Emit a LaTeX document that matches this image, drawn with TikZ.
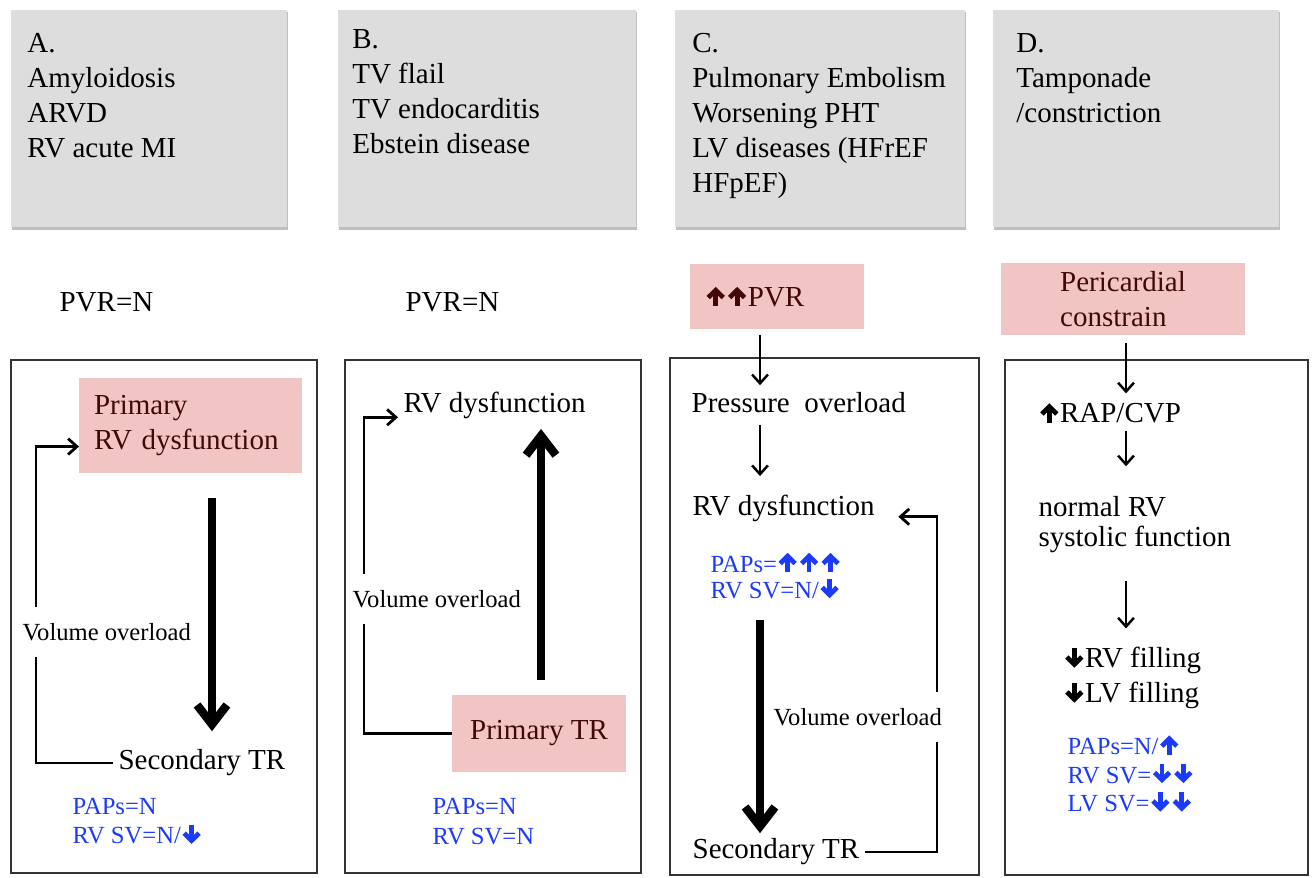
\documentclass[tikz,border=0pt]{standalone}
\usepackage{fontspec}
\setmainfont{Liberation Serif}
\usetikzlibrary{arrows.meta}
\definecolor{boxgray}{RGB}{221,221,221}
\definecolor{shadegray}{RGB}{190,190,190}
\definecolor{pinkfill}{RGB}{242,197,197}
\definecolor{trigtext}{RGB}{66,8,8}
\definecolor{hemoblue}{RGB}{28,58,250}
% heavy inline arrows
\newcommand{\hvup}{\kern0.5pt\tikz[baseline=0pt,x=1pt,y=1pt]\draw[line width=2.7pt,-{Straight Barb[length=4.2pt,width=8.5pt]}] (0,0) -- (0,11);\kern0.5pt}
\newcommand{\hvdn}{\kern0.5pt\tikz[baseline=0pt,x=1pt,y=1pt]\draw[line width=2.7pt,-{Straight Barb[length=4.2pt,width=8.5pt]}] (0,11) -- (0,0);\kern0.5pt}
\tikzset{
  causetxt/.style={anchor=north west, align=left, inner sep=0pt,
                   font=\fontsize{16.5}{19.9}\selectfont},
  trigger/.style={fill=pinkfill, text=trigtext, inner xsep=0.3cm, inner ysep=0pt,
                  outer sep=0pt, align=left, font=\fontsize{16.5}{19.9}\selectfont},
  ftxt/.style={anchor=west, align=left, inner sep=3pt,
               font=\fontsize{16.5}{19.9}\selectfont},
  otxt/.style={anchor=west, inner xsep=3pt, inner ysep=9pt,
               font=\fontsize{14}{17}\selectfont},
  hemo/.style={anchor=west, align=left, inner sep=3pt, text=hemoblue,
               font=\fontsize{14}{17}\selectfont},
  panel/.style={draw=black!80, line width=0.8pt},
  flow/.style={-{Straight Barb[length=5pt,width=9pt]}, line width=1.4pt},
  bigflow/.style={-{Straight Barb[length=11pt,width=17pt]}, line width=4.8pt},
  loopline/.style={line width=1.6pt},
  looptip/.style={-{Straight Barb[length=5pt,width=9pt]}},
}

\begin{document}
\begin{tikzpicture}[x=0.02cm, y=-0.02cm]
\useasboundingbox (0,0) rectangle (1314,878);

% cause boxes
\foreach \xa/\xb in {11/287, 338/636, 675/965, 993/1279} {
  \fill[shadegray] (\xa+1,12) rectangle (\xb+1,230);
  \fill[boxgray] (\xa,10) rectangle (\xb,227);
}
\node[causetxt] (causeA) at (27,33) {A.\\Amyloidosis\\ARVD\\RV acute MI};
\node[causetxt] (causeB) at (352,29) {B.\\TV flail\\TV endocarditis\\Ebstein disease};
\node[causetxt] (causeC) at (692,33) {C.\\Pulmonary Embolism\\Worsening PHT\\LV diseases (HFrEF\\HFpEF)};
\node[causetxt] (causeD) at (1016,33) {D.\\Tamponade\\/constriction};

\foreach \xa/\ya/\xb/\yb in {11/360/317/873, 345/360/641/873, 670/358/979/875, 1005/360/1308/875}
  \draw[panel] (\xa,\ya) rectangle (\xb,\yb);

% A
\node[ftxt] (pvrA) at (54,302) {PVR=N};
\node[trigger, minimum width=4.46cm, minimum height=1.9cm, text width=3.86cm] (pA) at (190.5,425.5) {Primary\\RV dysfunction};
\node[ftxt] (secA) at (113,763) {Secondary TR};
\node[otxt] (volA) at (17,632) {Volume overload};
\node[hemo] (hemA) at (67,822) {PAPs=N\\RV SV=N/\hvdn};
\coordinate (lA) at (36,0);
\coordinate (tA) at (212,0);
\draw[loopline] (secA.west) -| (lA |- volA.south);
\draw[loopline, looptip] (lA |- volA.north) |- ([yshift=-12pt]pA.west);
\draw[bigflow, shorten <=0.5cm, shorten >=0.26cm] (tA |- pA.south) -- (tA |- secA.north);

% B
\node[ftxt] (pvrB) at (400,302) {PVR=N};
\node[ftxt] (rvB) at (398,405) {RV dysfunction};
\node[trigger, minimum width=3.48cm, minimum height=1.54cm] (ptrB) at (539,733.5) {Primary TR};
\node[otxt] (volB) at (347,599) {Volume overload};
\node[hemo] (hemB) at (427,821.5) {PAPs=N\\RV SV=N};
\coordinate (lB) at (364,0);
\coordinate (tB) at (541,0);
\draw[loopline] (ptrB.west) -| (lB |- volB.south);
\draw[loopline, looptip] (lB |- volB.north) |- ([yshift=-7pt]rvB.west);
\draw[bigflow, shorten <=0.3cm, shorten >=0.1cm] (tB |- ptrB.north) -- (tB |- rvB.south);

% C
\node[trigger, minimum width=3.48cm, minimum height=1.3cm, text width=2.88cm] (pvrC) at (777,296.5) {\hvup\hvup PVR};
\node[ftxt] (presC) at (686,403) {Pressure\ \ overload};
\node[ftxt] (rvC) at (687,508) {RV dysfunction};
\node[hemo, font=\fontsize{14}{14.8}\selectfont] (hemC) at (705,575.5) {PAPs=\hvup\hvup\hvup\\RV SV=N/\hvdn};
\node[ftxt] (secC) at (687,852) {Secondary TR};
\node[otxt] (volC) at (768,717) {Volume overload};
\coordinate (colC) at (760,0);
\coordinate (lC) at (937,0);
\draw[flow, shorten <=0.12cm, shorten >=0.04cm] (colC |- pvrC.south) -- (colC |- presC.north);
\draw[flow, shorten <=0.12cm, shorten >=0.26cm] (colC |- presC.south) -- (colC |- rvC.north);
\draw[bigflow, shorten <=0.28cm] (colC |- hemC.south) -- (colC |- secC.north);
\draw[loopline] (secC.east) -| (lC |- volC.south);
\draw[loopline, looptip, shorten >=0.36cm] (lC |- volC.north) |- ([yshift=-5pt]rvC.east);

% D
\node[trigger, minimum width=4.88cm, minimum height=1.44cm] (pcD) at (1123,299) {Pericardial\\constrain};
\node[ftxt] (rapD) at (1033,413) {\hvup RAP/CVP};
\node[ftxt, font=\fontsize{16.5}{17}\selectfont] (normD) at (1033,525) {normal RV\\systolic function};
\node[ftxt] (fillD) at (1058,677.5) {\hvdn RV filling\\\hvdn LV filling};
\node[hemo, font=\fontsize{14}{16.2}\selectfont] (hemD) at (1062,773.5) {PAPs=N/\hvup\\RV SV=\hvdn\hvdn\\LV SV=\hvdn\hvdn};
\coordinate (colD) at (1126,0);
\draw[flow, shorten <=0.16cm, shorten >=0.04cm] (colD |- pcD.south) -- (colD |- rapD.north);
\draw[flow, shorten >=0.5cm] (colD |- rapD.south) -- (colD |- normD.north);
\draw[flow, shorten <=0.44cm, shorten >=0.24cm] (colD |- normD.south) -- (colD |- fillD.north);

\end{tikzpicture}
\end{document}
